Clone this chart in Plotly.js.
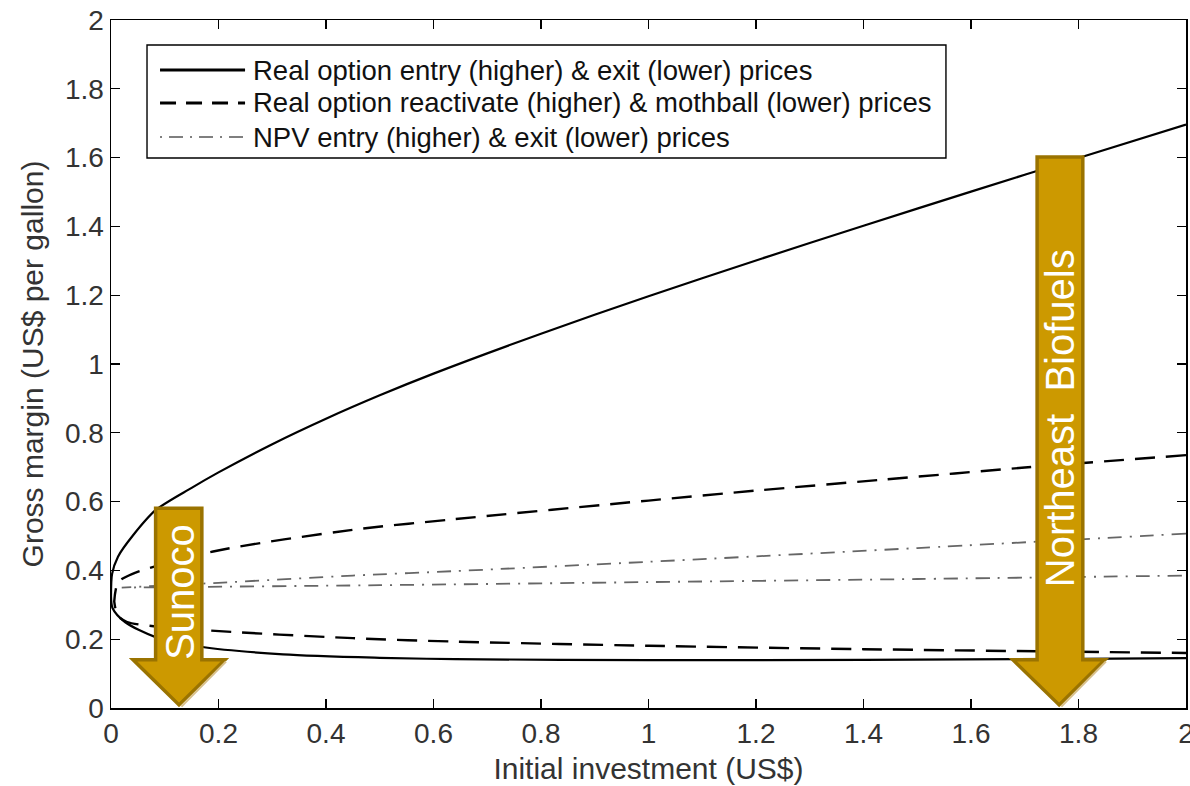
<!DOCTYPE html>
<html><head><meta charset="utf-8">
<script src="https://cdn.plot.ly/plotly-3.0.1.min.js"></script>
<style>html,body{margin:0;padding:0;background:#fff}#chart{width:1190px;height:786px}</style>
</head><body><div id="chart"></div>
<script>
// ---- data ----
const seriesNames = [
  "Real option entry (higher) & exit (lower) prices",
  "Real option reactivate (higher) & mothball (lower) prices",
  "NPV entry (higher) & exit (lower) prices"
];
// Real option entry (upper branch) and exit (lower branch)
const entryX = [0, 0.002, 0.013, 0.04, 0.083, 0.15, 0.2, 0.3, 0.4, 0.5, 0.6, 0.8, 1.0, 1.2, 1.4, 1.6, 1.8, 2.0];
const entryY = [0.325, 0.39, 0.44, 0.50, 0.575, 0.64, 0.685, 0.767, 0.841, 0.909, 0.972, 1.088, 1.197, 1.301, 1.402, 1.501, 1.599, 1.696];
const exitX  = [0, 0.003, 0.026, 0.083, 0.167, 0.32, 0.5, 0.64, 1.0, 1.4, 1.8, 2.0];
const exitY  = [0.325, 0.29, 0.25, 0.206, 0.178, 0.156, 0.146, 0.142, 0.139, 0.140, 0.143, 0.145];
// Real option reactivate (upper) and mothball (lower)
const reactX = [0.006, 0.013, 0.04, 0.19, 0.45, 0.64, 1.0, 1.2, 1.43, 1.7, 2.0];
const reactY = [0.31, 0.365, 0.39, 0.455, 0.518, 0.549, 0.603, 0.632, 0.663, 0.699, 0.735];
const mothX  = [0.006, 0.012, 0.03, 0.17, 0.45, 0.64, 1.0, 1.4, 2.0];
const mothY  = [0.31, 0.27, 0.25, 0.227, 0.203, 0.193, 0.181, 0.171, 0.16];
// NPV entry (upper) and exit (lower)
const npvEntryX = [0.02, 0.2, 0.45, 0.64, 1.0, 1.5, 2.0];
const npvEntryY = [0.35, 0.364, 0.385, 0.398, 0.425, 0.465, 0.507];
const npvExitX  = [0.02, 0.5, 1.0, 1.5, 2.0];
const npvExitY  = [0.35, 0.357, 0.366, 0.375, 0.385];
// ticks
const xTickVals = [0, 0.2, 0.4, 0.6, 0.8, 1, 1.2, 1.4, 1.6, 1.8, 2];
const xTickText = ["0", "0.2", "0.4", "0.6", "0.8", "1", "1.2", "1.4", "1.6", "1.8", "2"];
const yTickVals = [0, 0.2, 0.4, 0.6, 0.8, 1, 1.2, 1.4, 1.6, 1.8, 2];
const yTickText = ["0", "0.2", "0.4", "0.6", "0.8", "1", "1.2", "1.4", "1.6", "1.8", "2"];
// arrow labels
const arrowLabels = ["Sunoco", "Northeast  Biofuels"];

// ---- build ----
function joinBranches(ux, uy, lx, ly) {
  return {
    x: ux.slice().reverse().concat(lx),
    y: uy.slice().reverse().concat(ly)
  };
}
const s1 = joinBranches(entryX, entryY, exitX, exitY);
const s2 = joinBranches(reactX, reactY, mothX, mothY);
const s3 = joinBranches(npvEntryX, npvEntryY, npvExitX, npvExitY);

const styles = [
  {color: "#000", width: 2.2, dash: "solid"},
  {color: "#000", width: 2.4, dash: "20px,11px"},
  {color: "#666", width: 1.8, dash: "14px,8px,2px,8px"}
];
const series = [s1, s2, s3];
const traces = series.map((s, i) => ({
  type: "scatter", mode: "lines", x: s.x, y: s.y, name: seriesNames[i],
  line: Object.assign({shape: "spline", smoothing: 0.8}, styles[i]),
  showlegend: false, hoverinfo: "skip"
}));

const FONT = "Liberation Sans, Arial, sans-serif";
const gold = "#CC9900", goldEdge = "#9A7300";

// custom legend (paper coords)
const lgLeft = 0.0335, lgRight = 0.7767, lgTop = 0.9637, lgBottom = 0.7994;
const rowY = [0.9273, 0.8794, 0.8299];
const shapes = [
  {type: "rect", xref: "paper", yref: "paper", x0: lgLeft, x1: lgRight, y0: lgBottom, y1: lgTop,
   line: {color: "#000", width: 1.4}, fillcolor: "#fff", layer: "above"}
];
const annotations = [];
seriesNames.forEach((n, i) => {
  shapes.push({type: "line", xref: "paper", yref: "paper", x0: 0.0456, x1: 0.1247, y0: rowY[i], y1: rowY[i],
    line: {color: i === 2 ? "#555" : "#000", width: i === 2 ? 1.4 : 3, dash: i === 0 ? "solid" : (i === 1 ? "16px,10px" : "2px,7px,14px,7px")}, layer: "above"});
  annotations.push({xref: "paper", yref: "paper", x: 0.1302, y: rowY[i], xanchor: "left", yanchor: "middle",
    text: n, showarrow: false, font: {family: FONT, size: 27.5, color: "#111"}});
});

// arrows (data coords)
function arrowPath(xl, xr, yTop, hl, hr, yHead, xt, yt) {
  return `M${xl},${yTop} L${xr},${yTop} L${xr},${yHead} L${hr},${yHead} L${xt},${yt} L${hl},${yHead} L${xl},${yHead} Z`;
}
shapes.push({type: "path", xref: "x", yref: "y", path: arrowPath(0.083, 0.169, 0.581, 0.041, 0.212, 0.14, 0.1265, 0.009),
  fillcolor: gold, line: {color: goldEdge, width: 3.5}, layer: "above"});
shapes.push({type: "path", xref: "x", yref: "y", path: arrowPath(1.723, 1.808, 1.602, 1.678, 1.849, 0.14, 1.764, 0.009),
  fillcolor: gold, line: {color: goldEdge, width: 3.5}, layer: "above"});
// light bevel on the right edge of each arrow head
shapes.push({type: "line", xref: "x", yref: "y", x0: 0.214, y0: 0.135, x1: 0.131, y1: 0.004, line: {color: "#D8C08A", width: 2}, layer: "above"});
shapes.push({type: "line", xref: "x", yref: "y", x0: 1.851, y0: 0.135, x1: 1.768, y1: 0.004, line: {color: "#D8C08A", width: 2}, layer: "above"});
annotations.push({xref: "x", yref: "y", x: 0.128, y: 0.337, text: arrowLabels[0], textangle: -90, showarrow: false,
  font: {family: FONT, size: 40, color: "#fff"}});
annotations.push({xref: "x", yref: "y", x: 1.766, y: 0.843, text: arrowLabels[1], textangle: -90, showarrow: false,
  font: {family: FONT, size: 40, color: "#fff"}});

const axisCommon = {
  showline: true, linecolor: "#000", linewidth: 1.5, mirror: "ticks",
  ticks: "inside", ticklen: 9, tickwidth: 1.3, tickcolor: "#000",
  showgrid: false, zeroline: false, tickmode: "array", ticklabeloverflow: "allow",
  tickfont: {family: FONT, size: 28, color: "#333"}
};
const layout = {
  width: 1190, height: 786,
  margin: {l: 111, r: 4, t: 20, b: 78},
  paper_bgcolor: "#fff", plot_bgcolor: "#fff",
  xaxis: Object.assign({}, axisCommon, {range: [0, 2], tickvals: xTickVals, ticktext: xTickText,
    title: {text: "Initial investment (US$)", font: {family: FONT, size: 30, color: "#333"}, standoff: 10}}),
  yaxis: Object.assign({}, axisCommon, {range: [0, 2], tickvals: yTickVals, ticktext: yTickText,
    title: {text: "Gross margin (US$ per gallon)", font: {family: FONT, size: 30, color: "#333"}, standoff: 12}}),
  shapes: shapes, annotations: annotations, showlegend: false
};
Plotly.newPlot("chart", traces, layout, {displayModeBar: false, staticPlot: true});
</script></body></html>
